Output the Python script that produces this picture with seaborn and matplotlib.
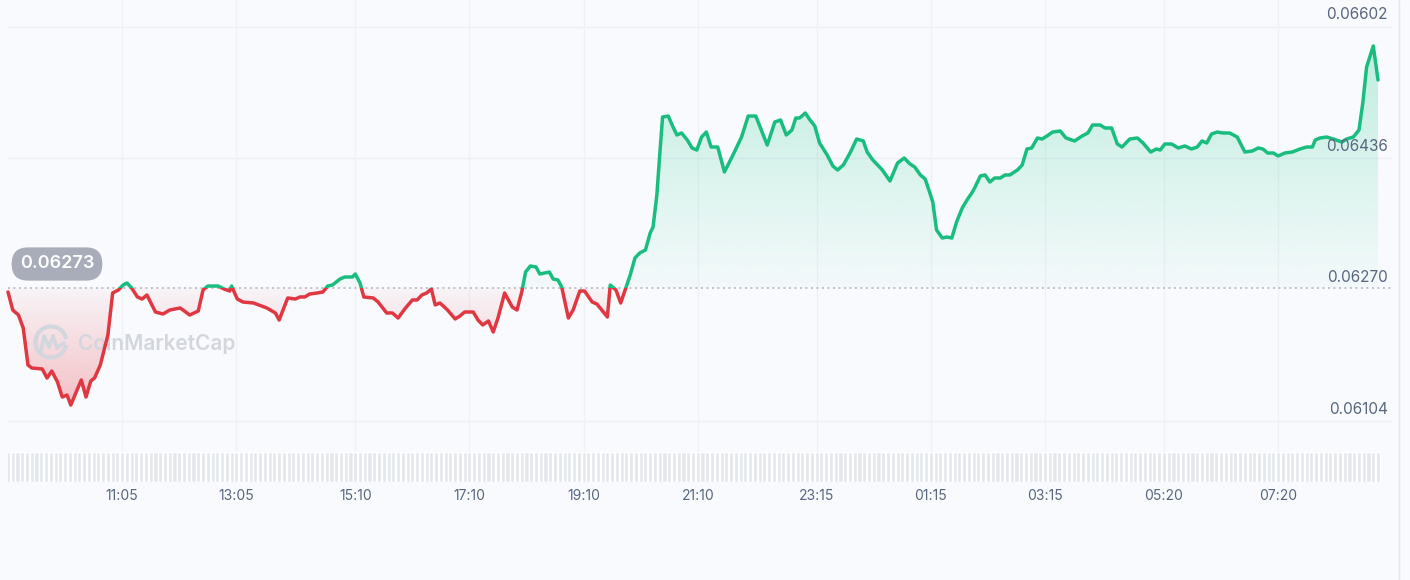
import numpy as np
import pandas as pd
import matplotlib.pyplot as plt
import seaborn as sns
from matplotlib.patches import Rectangle, Arc
from matplotlib.lines import Line2D

# minuti dalle 09:05 e prezzo (USD)
minutes = [0, 5, 11, 16, 21, 25, 36, 41, 46, 52,
           57, 62, 66, 77, 82, 87, 91, 97, 105, 110,
           116, 121, 125, 130, 136, 141, 146, 155, 163, 170,
           181, 191, 200, 205, 210, 221, 227, 233, 235, 241,
           247, 258, 272, 281, 285, 294, 302, 307, 312, 317,
           325, 331, 336, 341, 349, 354, 362, 365, 370, 374,
           384, 389, 398, 404, 410, 417, 425, 430, 435, 440,
           445, 449, 454, 462, 470, 475, 480, 489, 494, 499,
           505, 510, 515, 522, 530, 535, 540, 544, 549, 555,
           559, 564, 569, 573, 578, 582, 589, 594, 601, 606,
           614, 619, 630, 633, 639, 644, 649, 654, 659, 664,
           670, 675, 678, 682, 685, 688, 694, 699, 703, 708,
           714, 719, 724, 729, 734, 739, 746, 753, 762, 771,
           778, 786, 793, 798, 806, 812, 818, 824, 828, 832,
           838, 843, 848, 853, 861, 867, 872, 878, 885, 892,
           899, 903, 909, 919, 927, 935, 942, 948, 953, 959,
           964, 969, 972, 976, 982, 987, 992, 997, 1003, 1008,
           1013, 1016, 1022, 1027, 1032, 1037, 1043, 1048, 1053, 1061,
           1066, 1071, 1076, 1082, 1087, 1092, 1098, 1106, 1112, 1121,
           1129, 1135, 1140, 1148, 1153, 1160, 1166, 1171, 1179, 1187,
           1193, 1201, 1207, 1211, 1216, 1223, 1230, 1237, 1244, 1250,
           1255, 1260, 1265, 1271, 1277, 1284, 1292, 1300, 1308, 1314,
           1319, 1324, 1330, 1335, 1342, 1350, 1358, 1365, 1371, 1374,
           1379, 1386, 1393, 1402, 1407, 1414, 1420, 1424, 1428, 1435, 1440]

price = [0.062675, 0.062447, 0.062384, 0.062220, 0.061753, 0.061715, 0.061703, 0.061589, 0.061677, 0.061539,
         0.061349, 0.061374, 0.061248, 0.061564, 0.061349, 0.061551, 0.061589, 0.061753, 0.062132, 0.062662,
         0.062700, 0.062763, 0.062788, 0.062725, 0.062612, 0.062586, 0.062637, 0.062422, 0.062397, 0.062447,
         0.062473, 0.062384, 0.062435, 0.062700, 0.062750, 0.062750, 0.062713, 0.062687, 0.062750, 0.062586,
         0.062548, 0.062536, 0.062473, 0.062410, 0.062321, 0.062599, 0.062586, 0.062612, 0.062612, 0.062649,
         0.062662, 0.062675, 0.062750, 0.062763, 0.062839, 0.062864, 0.062864, 0.062902, 0.062788, 0.062612,
         0.062599, 0.062548, 0.062410, 0.062410, 0.062346, 0.062460, 0.062574, 0.062574, 0.062637, 0.062662,
         0.062713, 0.062511, 0.062536, 0.062447, 0.062334, 0.062372, 0.062422, 0.062422, 0.062321, 0.062258,
         0.062309, 0.062170, 0.062346, 0.062662, 0.062485, 0.062447, 0.062675, 0.062927, 0.063003, 0.062990,
         0.062902, 0.062915, 0.062927, 0.062839, 0.062826, 0.062738, 0.062346, 0.062447, 0.062687, 0.062687,
         0.062548, 0.062523, 0.062359, 0.062763, 0.062700, 0.062536, 0.062713, 0.062889, 0.063104, 0.063167,
         0.063205, 0.063420, 0.063495, 0.063899, 0.064404, 0.064884, 0.064896, 0.064758, 0.064657, 0.064682,
         0.064593, 0.064493, 0.064467, 0.064631, 0.064694, 0.064505, 0.064505, 0.064190, 0.064404, 0.064631,
         0.064896, 0.064896, 0.064682, 0.064530, 0.064821, 0.064846, 0.064657, 0.064720, 0.064871, 0.064871,
         0.064934, 0.064846, 0.064770, 0.064556, 0.064404, 0.064265, 0.064215, 0.064278, 0.064429, 0.064606,
         0.064581, 0.064442, 0.064341, 0.064215, 0.064076, 0.064303, 0.064366, 0.064291, 0.064253, 0.064152,
         0.064101, 0.063924, 0.063811, 0.063457, 0.063356, 0.063369, 0.063356, 0.063558, 0.063735, 0.063836,
         0.063924, 0.063988, 0.064139, 0.064152, 0.064063, 0.064114, 0.064114, 0.064152, 0.064152, 0.064215,
         0.064278, 0.064480, 0.064493, 0.064619, 0.064606, 0.064644, 0.064694, 0.064707, 0.064619, 0.064581,
         0.064644, 0.064682, 0.064783, 0.064783, 0.064745, 0.064745, 0.064543, 0.064505, 0.064606, 0.064619,
         0.064556, 0.064442, 0.064480, 0.064467, 0.064543, 0.064543, 0.064493, 0.064518, 0.064480, 0.064505,
         0.064581, 0.064556, 0.064669, 0.064694, 0.064682, 0.064682, 0.064631, 0.064442, 0.064455, 0.064493,
         0.064480, 0.064429, 0.064429, 0.064392, 0.064429, 0.064442, 0.064480, 0.064505, 0.064505, 0.064593,
         0.064619, 0.064631, 0.064606, 0.064568, 0.064606, 0.064631, 0.064720, 0.065061, 0.065515, 0.065780, 0.065351]

base_price = 0.06273
y_ticks = [0.06104, 0.06270, 0.06436, 0.06602]
x_labels = ["11:05", "13:05", "15:10", "17:10", "19:10", "21:10",
            "23:15", "01:15", "03:15", "05:20", "07:20"]
# barre del volume: nel grafico sono tutte alla stessa altezza
volume = [1.0] * 289

df = pd.DataFrame({"minuti": minutes, "prezzo": price})

GREEN = "#19bd7f"
RED = "#e03842"
BG = "#f8fafd"
TXT = "#58667e"
W, H = 1410, 580

sns.set_theme(style="white")
plt.rcParams['font.family'] = ['Inter', 'DejaVu Sans']

fig = plt.figure(figsize=(W / 100, H / 100), dpi=100, facecolor=BG)
ax = fig.add_axes([8 / W, 1 - 452 / H, 1384 / W, 452 / H])
axv = fig.add_axes([8 / W, 1 - 482 / H, 1384 / W, 30 / H])
for a in (ax, axv):
    a.set_facecolor(BG)
    for s in a.spines.values():
        s.set_visible(False)

xmax = 1384 * 1.05108
ymin, ymax = 0.0606549, 0.0663608


def to_min(lbl):
    h, m = map(int, lbl.split(":"))
    return (h * 60 + m - (9 * 60 + 5)) % 1440


x_ticks = [to_min(l) for l in x_labels]

# griglia
for v in [0.06104, 0.06436, 0.06602]:
    ax.axhline(v, color="#eceff3", lw=1, zorder=0)
for t in x_ticks:
    ax.axvline(t, color="#eef1f5", lw=1, zorder=0)

# riempimento a gradiente (verde sopra la base, rosso sotto)
pmax, pmin = max(price), min(price)
yy = np.linspace(ymin, ymax, 400)
img = np.zeros((400, 1, 4))
g = np.array([22, 199, 132]) / 255
r = np.array([234, 57, 67]) / 255
for i, v in enumerate(yy):
    if v >= base_price:
        img[i, 0, :3] = g
        img[i, 0, 3] = 0.02 + 0.23 * min(1, (v - base_price) / (pmax - base_price))
    else:
        img[i, 0, :3] = r
        img[i, 0, 3] = 0.03 + 0.27 * min(1, (base_price - v) / (base_price - pmin))
im = ax.imshow(img, extent=[0, max(minutes), ymin, ymax], origin="lower",
               aspect="auto", zorder=1, interpolation="bilinear")
poly = ax.fill_between(minutes, price, base_price, facecolor="none", edgecolor="none")
im.set_clip_path(poly.get_paths()[0], ax.transData)

# linea base tratteggiata
ax.axhline(base_price, color="#a9aeb8", lw=1.1, linestyle=(0, (1.2, 2.4)), zorder=2)

# linea del prezzo, colorata sopra/sotto la base
sns.lineplot(data=df, x="minuti", y="prezzo", color=GREEN, lw=2.5, sort=False,
             estimator=None, ax=ax, zorder=4)
sns.lineplot(data=df, x="minuti", y="prezzo", color=RED, lw=2.5, sort=False,
             estimator=None, ax=ax, zorder=4)
top = Rectangle((-10, base_price), xmax + 20, ymax - base_price, transform=ax.transData)
bot = Rectangle((-10, ymin), xmax + 20, base_price - ymin, transform=ax.transData)
ax.lines[-2].set_clip_path(top)
ax.lines[-1].set_clip_path(bot)

ax.set_xlim(0, xmax)
ax.set_ylim(ymin, ymax)
ax.set_xticks([])
ax.set_yticks([])
ax.set_xlabel("")
ax.set_ylabel("")

# etichette asse y a destra, sopra le linee di griglia
for v in y_ticks:
    ax.annotate(f"{v:.5f}", xy=(0.9971, v), xycoords=("axes fraction", "data"),
                xytext=(0, 3.5), textcoords="offset points", ha="right", va="bottom",
                fontsize=11, color=TXT, zorder=5)

# etichetta prezzo iniziale
fig.text(57 / W, 1 - 264 / H, "0.06273", ha="center", va="center", fontsize=13,
         color="white", fontweight="semibold",
         bbox=dict(boxstyle="round,pad=0.45,rounding_size=0.9", fc="#a8adb9", ec="none"))

# filigrana
wm = "#d3d6dd"
ax.text(78 / W, 1 - 343 / H, "CoinMarketCap", transform=fig.transFigure, ha="left",
        va="center", fontsize=15, fontweight="semibold", color=wm, zorder=3)
ax.add_patch(Arc((51 / W, 1 - 342 / H), 31 / W, 31 / H, theta1=25, theta2=335,
                 transform=fig.transFigure, color=wm, lw=3, zorder=3))
ax.add_line(Line2D(np.array([41, 44, 49, 53, 57, 64]) / W,
                   1 - np.array([351, 336, 347, 336, 348, 343]) / H,
                   transform=fig.transFigure, color=wm, lw=2.6, zorder=3))

# striscia del volume
axv.bar(np.arange(len(volume)) * 5, volume, width=4.3, color="#e3e7ed", zorder=1)
for t in x_ticks:
    axv.axvline(t, color="#eef1f5", lw=1, zorder=0)
axv.set_xlim(0, xmax)
axv.set_ylim(0, 1)
axv.set_yticks([])
axv.set_xticks(x_ticks)
axv.set_xticklabels(x_labels, fontsize=10, color=TXT)
axv.tick_params(axis="x", length=0, pad=5)

# bordo a destra
fig.add_artist(Line2D([1399 / W, 1399 / W], [0, 1], transform=fig.transFigure,
                      color="#e3e6eb", lw=1))

fig.savefig("out.png", dpi=100, facecolor=BG)
